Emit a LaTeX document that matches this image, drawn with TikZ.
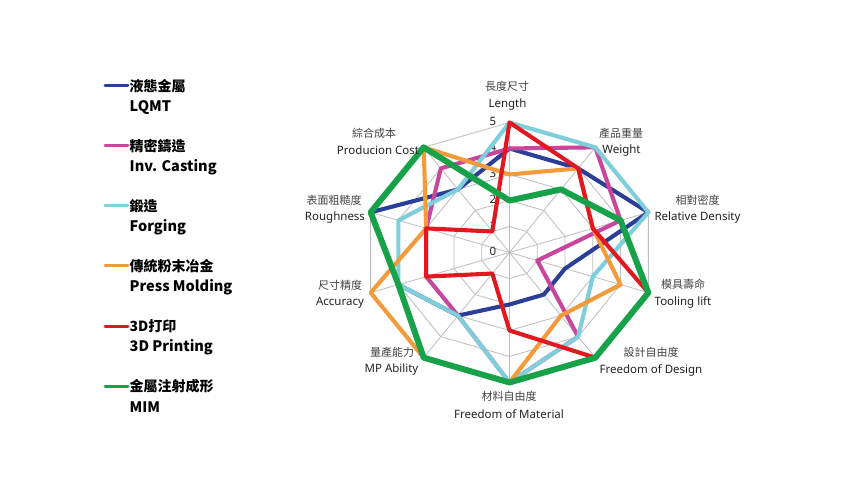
\documentclass[tikz,border=0pt]{standalone}
\usepackage{fontspec}
\setmainfont{Noto Sans}
\newfontfamily\cjk{Noto Sans CJK TC}
\definecolor{cLQ}{HTML}{2B3F98}
\definecolor{cIC}{HTML}{C8479C}
\definecolor{cFG}{HTML}{7FCEDB}
\definecolor{cPM}{HTML}{F39A3A}
\definecolor{cDP}{HTML}{E3171F}
\definecolor{cMIM}{HTML}{17A24A}
\definecolor{gridc}{HTML}{BDBDBD}
\definecolor{txt}{HTML}{222222}
\tikzset{
  gridline/.style={draw=gridc, line width=0.8pt},
  serie/.style={line width=4.1pt, line join=round},
  legline/.style={line width=3pt, line cap=round},
  cjklab/.style={inner sep=0pt, font=\cjk\fontsize{11}{11}\selectfont, text=txt!85},
  latlab/.style={inner sep=0pt, font=\fontsize{11.5}{12}\selectfont, text=txt},
  numlab/.style={inner sep=0pt, font=\fontsize{11.5}{12}\selectfont, text=txt},
  legcjk/.style={inner sep=0pt, anchor=west, font=\cjk\bfseries\fontsize{14}{14}\selectfont, text=black},
  leglat/.style={inner sep=0pt, anchor=west, font=\cjk\bfseries\fontsize{14.5}{14.5}\selectfont, text=black},
}
\newcommand\radarseries[3]{%
  \foreach \v [count=\k from 0] in {#3} {\coordinate (#1-\k) at ({509.5+29.2*\v*sin(36*\k)},{252.5-26*\v*cos(36*\k)});}
  \draw[serie,#2] (#1-0) \foreach \k in {1,...,9}{-- (#1-\k)} -- cycle;
}
\begin{document}
\begin{tikzpicture}[x=1pt,y=-1pt]
\useasboundingbox[fill=white] (0,0) rectangle (868,497);
\coordinate (O) at (509.5,252.5);
% grid
\foreach \r in {1,...,5}{
  \draw[gridline] ({509.5},{252.5-26*\r}) \foreach \k in {1,...,9}{-- ({509.5+29.2*\r*sin(36*\k)},{252.5-26*\r*cos(36*\k)})} -- cycle;
}
\foreach \k in {0,...,9}{
  \coordinate (sp\k) at ({509.5+146*sin(36*\k)},{252.5-130*cos(36*\k)});
  \draw[gridline] (O) -- (sp\k);
}
% scale numbers
\foreach \n in {0,...,5}{
  \node[numlab] (num\n) at (493,{251.5-26*\n}) {\n};
}
% series
\radarseries{lq}{cLQ}{4,4,5,2,2,2,3,4,5,3}
\radarseries{ic}{cIC}{4,5,4,1,4,5,3,3,3,4}
\radarseries{fg}{cFG}{5,5,5,3,4,5,3,4,4,3}
\radarseries{pm}{cPM}{3,4,3,4,3,5,5,5,3,5}
\radarseries{dp}{cDP}{5,4,3,5,5,3,1,3,3,1}
\radarseries{mim}{cMIM,line width=6pt}{2,3,4,5,5,5,5,4,5,5}
% axis labels
\node[cjklab] (l0a) at (507,86) {長度尺寸};
\node[latlab] (l0b) at (507.5,105) {Length};
\node[cjklab] (l1a) at (621,133) {產品重量};
\node[latlab] (l1b) at (621.5,151) {Weight};
\node[cjklab] (l2a) at (697.5,200) {相對密度};
\node[latlab] (l2b) at (697.5,218) {Relative Density};
\node[cjklab] (l3a) at (683,284) {模具壽命};
\node[latlab] (l3b) at (683,302) {Tooling lift};
\node[cjklab] (l4a) at (651,352) {設計自由度};
\node[latlab] (l4b) at (651,370) {Freedom of Design};
\node[cjklab] (l5a) at (509,396) {材料自由度};
\node[latlab] (l5b) at (509,414) {Freedom of Material};
\node[cjklab] (l6a) at (392,352) {量產能力};
\node[latlab] (l6b) at (391.5,369.5) {MP Ability};
\node[cjklab] (l7a) at (340,285) {尺寸精度};
\node[latlab] (l7b) at (340,302.5) {Accuracy};
\node[cjklab] (l8a) at (334,200) {表面粗糙度};
\node[latlab] (l8b) at (335,217.5) {Roughness};
\node[cjklab] (l9a) at (374,133) {綜合成本};
\node[latlab] (l9b) at (378,150) {Producion Cost};
% legend
\foreach \y/\c/\ta/\tb [count=\j] in {86/cLQ/液態金屬/LQMT, 146/cIC/精密鑄造/Inv. Casting, 206/cFG/鍛造/Forging, 266/cPM/傳統粉末冶金/Press Molding, 326/cDP/3D打印/3D Printing, 386/cMIM/金屬注射成形/MIM}{
  \coordinate (ls\j) at (105,\y);
  \coordinate (le\j) at (128,\y);
  \draw[legline,\c] (ls\j) -- (le\j);
  \node[legcjk] (lg\j a) at (129.5,\y) {\ta};
  \node[leglat] (lg\j b) at (129.5,\y+21.5) {\tb};
}
\end{tikzpicture}
\end{document}
